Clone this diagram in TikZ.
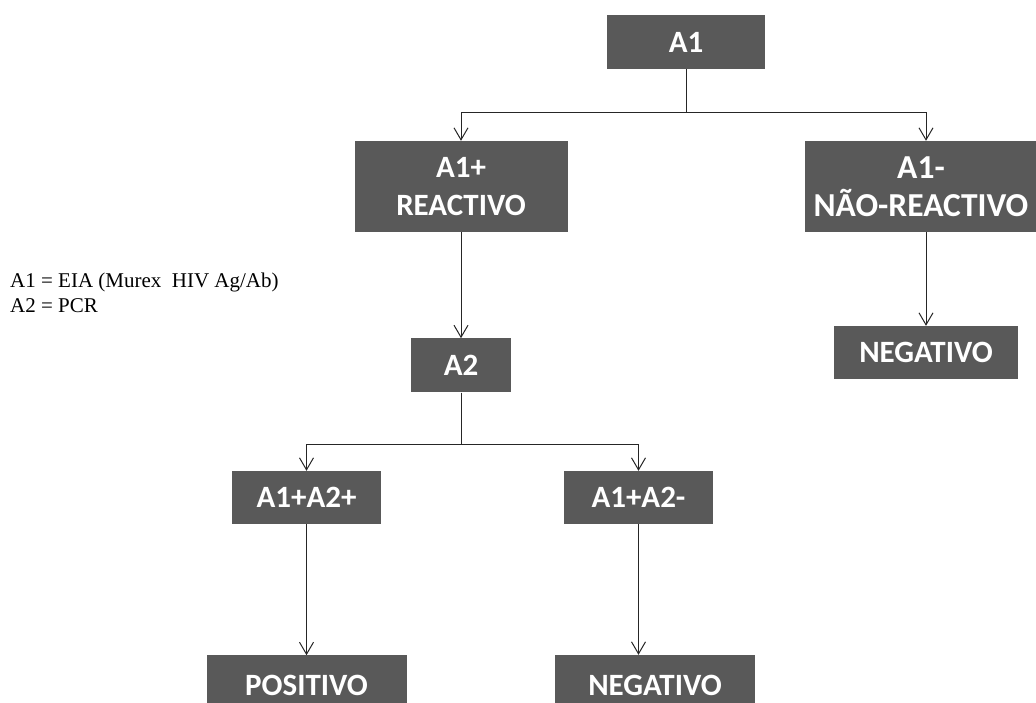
\documentclass[tikz,border=0pt]{standalone}
\usepackage{fontspec}
\setmainfont{Liberation Serif}
\newfontfamily\calibri{Carlito}
\usepackage{xcolor}
\usetikzlibrary{positioning,arrows.meta}

\definecolor{boxgray}{HTML}{595959}
\tikzset{
  stage/.style={fill=boxgray, text=white, inner sep=0pt, align=center,
    font=\calibri\bfseries\fontsize{31}{38}\selectfont},
  link/.style={-{Straight Barb[length=12pt,width=14pt]}, line width=1pt, draw=black!85}
}

\begin{document}
\begin{tikzpicture}[x=1pt, y=-1pt]
\useasboundingbox (0,0) rectangle (1036,702);
% first test
\node[stage, minimum width=158pt, minimum height=54pt] (a1) at (686,42) {A1};
\node[stage, minimum width=213pt, minimum height=91pt] (reac) at (461,186.5) {A1+\\REACTIVO};
\node[stage, minimum width=232pt, minimum height=91pt,
  font=\calibri\bfseries\fontsize{33.5}{38}\selectfont] (nreac) at (921,186.5) {A1-\\NÃO-REACTIVO};
% negative branch
\node[stage, minimum width=184pt, minimum height=53pt] (neg) at (926,352.5) {NEGATIVO};
\draw[link] (a1.south) -- ++(0,43) -| (reac.north);
\draw[link] (a1.south) -- ++(0,43) -| (neg.north |- nreac.north);
\draw[link] (nreac.south -| neg.north) -- (neg.north);
% second test
\node[stage, minimum width=100pt, minimum height=54pt, below=106pt of reac] (a2) {A2};
\draw[link] (reac) -- (a2);
\node[stage, minimum width=149pt, minimum height=53pt] (pp) at (306.5,497.5) {A1+A2+};
\node[stage, minimum width=149pt, minimum height=53pt] (pm) at (638.5,497.5) {A1+A2-};
\draw[link] (a2.south) -- ++(0,52) -| (pp.north);
\draw[link] (a2.south) -- ++(0,52) -| (pm.north);
% results
\node[stage, minimum width=200pt, minimum height=60pt, below=131pt of pp] (posi) {POSITIVO};
\node[stage, minimum width=200pt, minimum height=60pt] (neg2) at (655,685) {NEGATIVO};
\draw[link] (pp) -- (posi);
\draw[link] (pm) -- (pm |- neg2.north);
% legend
\node[anchor=north west, inner sep=0pt, align=left, font=\fontsize{21}{25}\selectfont]
  (legend) at (10,273) {A1 = EIA (Murex~ HIV Ag/Ab)\\A2 = PCR};
\end{tikzpicture}
\end{document}
